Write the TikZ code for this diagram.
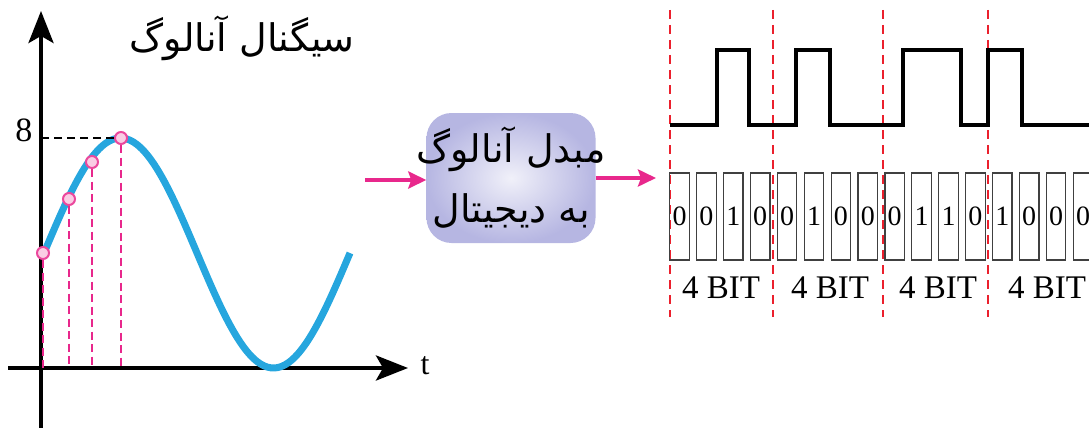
\documentclass[tikz,border=0pt]{standalone}
\usepackage{fontspec}
\usepackage{xcolor}
\setmainfont{Liberation Serif}
\newfontfamily\farsifont[Script=Arabic]{DejaVu Sans}
\TeXXeTstate=1
\usetikzlibrary{arrows.meta}
\definecolor{waveblue}{RGB}{38,166,222}
\definecolor{flowpink}{RGB}{232,40,140}
\definecolor{cutred}{RGB}{235,32,45}
\definecolor{boxlilac}{RGB}{182,182,226}
\definecolor{dotpink}{RGB}{250,205,228}

\begin{document}
\begin{tikzpicture}[x=1pt,y=-1pt,
  axis/.style={line width=4pt,-{Stealth[length=32pt,width=25pt,inset=7pt]}},
  flow/.style={flowpink,line width=4pt,-{Stealth[length=18pt,width=17pt,inset=3pt]}},
  guide/.style={flowpink,line width=2.4pt,dash pattern=on 8pt off 4.5pt},
  cut/.style={cutred,line width=2.6pt,dash pattern=on 9pt off 6pt},
  sample/.style={circle,draw=flowpink!85,fill=dotpink,line width=2pt,minimum size=12pt,inner sep=0pt},
  bitbox/.style={draw=black!75,line width=1.2pt,minimum width=19.5pt,minimum height=87pt,inner sep=0pt,font=\fontsize{28}{28}\selectfont},
  bitlabel/.style={font=\fontsize{33}{33}\selectfont},
  fatext/.style={font=\farsifont\fontsize{38}{60}\selectfont,align=center}]
\useasboundingbox (0,0) rectangle (1089,428);
\clip (0,0) rectangle (1089,428);
\coordinate (ybot) at (41,428);
\coordinate (ytop) at (41,11);
\coordinate (xleft) at (8,368);
\coordinate (xright) at (408,368);
\draw[axis] (ybot) -- (ytop);
\draw[axis] (xleft) -- (xright);
\node (tlabel) at (425,366) {\fontsize{32}{32}\selectfont t};
\node (eight) at (24,130) {\fontsize{34}{34}\selectfont 8};
\node[fatext] (title) at (242,38) {\beginR سیگنال آنالوگ\endR};
\draw[waveblue,line width=7pt] plot[domain=0:306,samples=90,smooth] ({\x+44},{253-115*sin(\x/306*360)});
\node[sample] (s1) at (43,253) {};
\node[sample] (s2) at (69,199) {};
\node[sample] (s3) at (92,162) {};
\node[sample] (s4) at (121,138) {};
\draw[guide] (s1.south) -- (s1 |- xleft);
\draw[guide] (s2.south) -- (s2 |- xleft);
\draw[guide] (s3.south) -- (s3 |- xleft);
\draw[guide] (s4.south) -- (s4 |- xleft);
\draw[line width=2pt,dash pattern=on 8pt off 5pt] (s4.west) -- (s4 -| ytop);
\node[rounded corners=25pt,minimum width=169pt,minimum height=130pt,inner color=boxlilac!20,outer color=boxlilac] (adc) at (511,178) {};
\node[fatext] (adctext) at (adc.center) {\beginR مبدل آنالوگ\endR\\\beginR به دیجیتال\endR};
\coordinate (in) at (365,180);
\coordinate (out) at (656,178);
\draw[flow] (in) -- (in -| adc.west);
\draw[flow] (out -| adc.east) -- (out);
\draw[cut] (670,10) -- (670,317);
\draw[cut] (773,10) -- (773,317);
\draw[cut] (883,10) -- (883,317);
\draw[cut] (988,10) -- (988,317);
\draw[line width=4.5pt,line join=miter] (670,125) -| (717,50) -| (749,125) -| (796,50) -| (830,125) -| (903,50) -| (961,125) -| (988,50) -| (1022,125) -- (1092,125);
\node[bitbox] (b1) at (679.5,216.5) {0};
\node[bitbox] (b2) at (706.4,216.5) {0};
\node[bitbox] (b3) at (733.3,216.5) {1};
\node[bitbox] (b4) at (760.2,216.5) {0};
\node[bitbox] (b5) at (787.1,216.5) {0};
\node[bitbox] (b6) at (814.0,216.5) {1};
\node[bitbox] (b7) at (840.9,216.5) {0};
\node[bitbox] (b8) at (867.8,216.5) {0};
\node[bitbox] (b9) at (894.7,216.5) {0};
\node[bitbox] (b10) at (921.6,216.5) {1};
\node[bitbox] (b11) at (948.5,216.5) {1};
\node[bitbox] (b12) at (975.4,216.5) {0};
\node[bitbox] (b13) at (1002.3,216.5) {1};
\node[bitbox] (b14) at (1029.2,216.5) {0};
\node[bitbox] (b15) at (1056.1,216.5) {0};
\node[bitbox] (b16) at (1083.0,216.5) {0};
\node[bitlabel] (g1) at (721,288) {4 BIT};
\node[bitlabel] (g2) at (830,288) {4 BIT};
\node[bitlabel] (g3) at (938,288) {4 BIT};
\node[bitlabel] (g4) at (1047,288) {4 BIT};
\end{tikzpicture}
\end{document}
